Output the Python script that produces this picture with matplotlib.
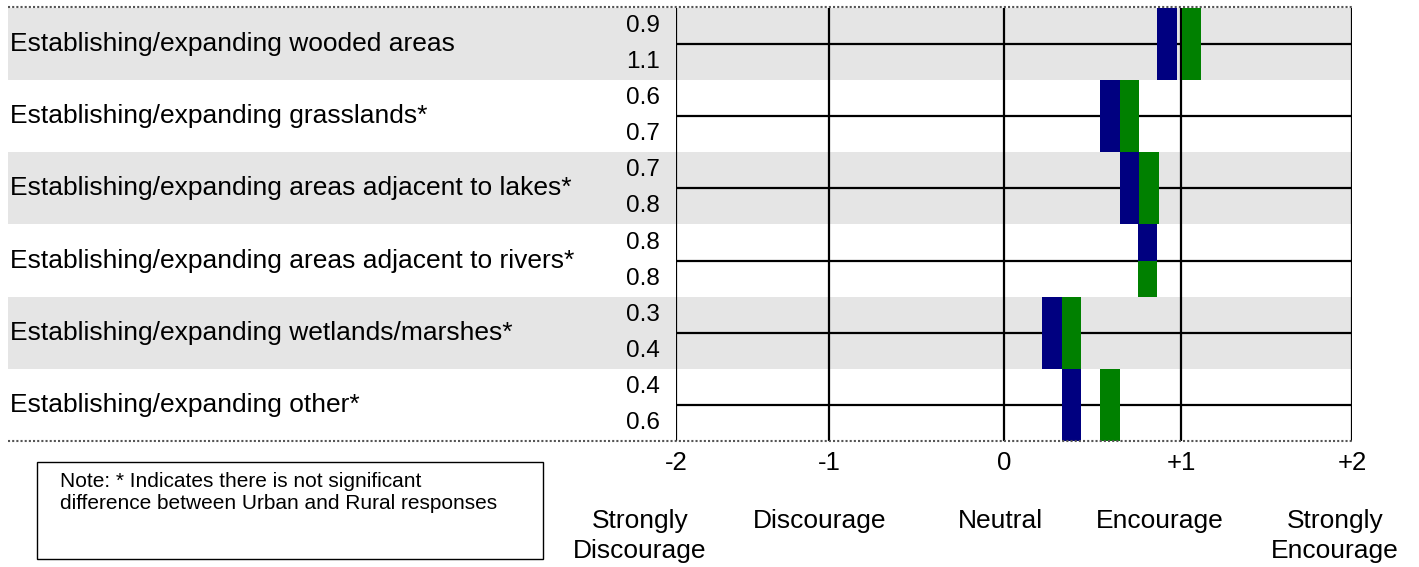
import matplotlib
matplotlib.use("Agg")
import matplotlib.pyplot as plt
import numpy as np
from matplotlib.patches import Rectangle
from matplotlib.lines import Line2D
import matplotlib.transforms as mtransforms

plt.rcParams['font.family'] = ['Liberation Sans', 'DejaVu Sans']

# Dane
categories = [
    "Establishing/expanding wooded areas",
    "Establishing/expanding grasslands*",
    "Establishing/expanding areas adjacent to lakes*",
    "Establishing/expanding areas adjacent to rivers*",
    "Establishing/expanding wetlands/marshes*",
    "Establishing/expanding other*",
]
urban = [0.92, 0.60, 0.71, 0.81, 0.27, 0.38]   # niebieskie
rural = [1.06, 0.71, 0.82, 0.81, 0.38, 0.60]   # zielone
urban_lbl = ["0.9", "0.6", "0.7", "0.8", "0.3", "0.4"]
rural_lbl = ["1.1", "0.7", "0.8", "0.8", "0.4", "0.6"]
ticks = [-2, -1, 0, 1, 2]
tick_lbl = ["-2", "-1", "0", "+1", "+2"]
scale_names = ["Strongly\nDiscourage", "Discourage", "Neutral", "Encourage", "Strongly\nEncourage"]

W, H = 1419, 567
fx = lambda px: px / W
fy = lambda py: 1 - py / H

# os x w Excelu nie jest calkiem rowna
tick_px = [676, 829, 1004, 1181, 1352]
fwd = lambda x: np.interp(x, ticks, tick_px)
inv = lambda p: np.interp(p, tick_px, ticks)

fig = plt.figure(figsize=(W/100, H/100), dpi=100)
ax = fig.add_axes([fx(676), fy(441), fx(1352) - fx(676), fy(8) - fy(441)])
ax.set_xscale('function', functions=(fwd, inv))
ax.set_xlim(-2, 2)
ax.set_ylim(6, 0)
for s in ax.spines.values():
    s.set_visible(False)
ax.set_yticks([])
ax.set_xticks(ticks)
ax.set_xticklabels(tick_lbl, fontsize=18.5)
ax.tick_params(axis='x', length=0, pad=7)

n = len(categories)
trans = mtransforms.blended_transform_factory(fig.transFigure, ax.transData)

# pasy tla
for i in range(n):
    if i % 2 == 0:
        ax.add_patch(Rectangle((fx(8), i), fx(1352) - fx(8), 1, transform=trans,
                               facecolor='#e5e5e5', edgecolor='none', clip_on=False, zorder=0))
    ax.text(fx(10), i + 0.5, categories[i], transform=trans, fontsize=19, va='center', ha='left')
    ax.text(fx(660), i + 0.25, urban_lbl[i], transform=trans, fontsize=17.5, va='center', ha='right')
    ax.text(fx(660), i + 0.75, rural_lbl[i], transform=trans, fontsize=17.5, va='center', ha='right')
    ax.plot([-2, 2], [i + 0.5, i + 0.5], color='black', lw=1.6, zorder=2)

for t in ticks:
    ax.axvline(t, color='black', lw=1.6, zorder=2)

# slupki
w = 0.11
for i in range(n):
    if urban[i] == rural[i]:
        ax.bar(urban[i], 0.5, bottom=i, width=w, color='#000080', zorder=3)
        ax.bar(rural[i], 0.5, bottom=i + 0.5, width=w, color='#008000', zorder=3)
    else:
        ax.bar(urban[i], 1, bottom=i, width=w, color='#000080', zorder=3)
        ax.bar(rural[i], 1, bottom=i, width=w, color='#008000', zorder=3)

# kropkowane linie gora/dol
for py in (7, 441):
    fig.add_artist(Line2D([fx(8), fx(1352)], [fy(py), fy(py)], color='#555555',
                          lw=1.5, linestyle=(0, (1, 1)), transform=fig.transFigure))

# opisy skali
for name, px in zip(scale_names, [640, 820, 1000, 1160, 1335]):
    fig.text(fx(px), fy(509), name, fontsize=19, ha='center', va='top', linespacing=1.3)

# notka
fig.add_artist(Rectangle((fx(37), fy(559)), fx(543) - fx(37), fy(462) - fy(559),
                         facecolor='white', edgecolor='black', lw=1.0, transform=fig.transFigure))
fig.text(fx(60), fy(472), "Note: * Indicates there is not significant\ndifference between Urban and Rural responses",
         fontsize=15, ha='left', va='top', linespacing=1.2)

fig.savefig("out.png", dpi=100)
